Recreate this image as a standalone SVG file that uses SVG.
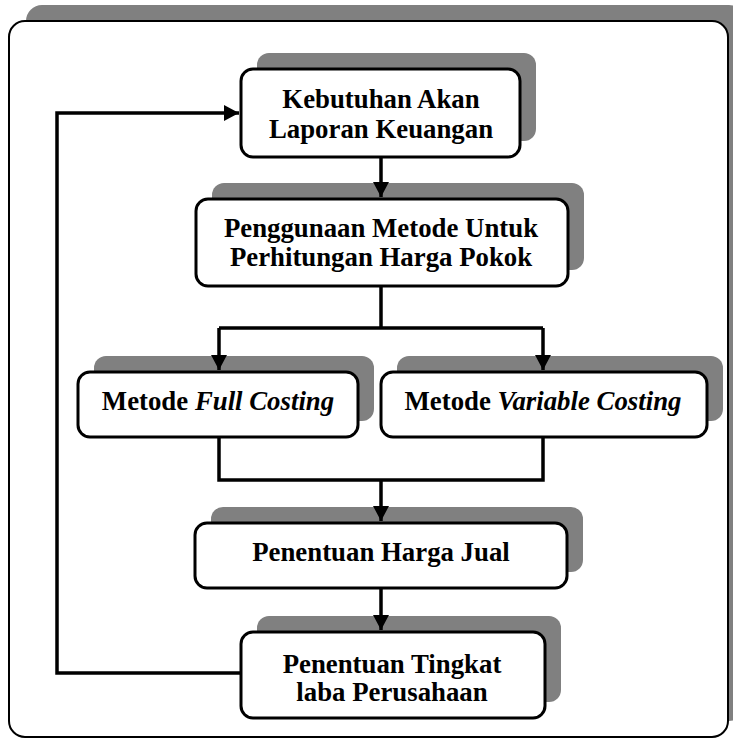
<svg xmlns="http://www.w3.org/2000/svg" width="733" height="738" viewBox="0 0 733 738">
<style>
.sh{fill:#808080;stroke:none}
.box{fill:#fff;stroke:#000;stroke-width:3}
.t{font-family:'Liberation Serif','Times New Roman','DejaVu Serif',serif;font-weight:bold;font-size:26.8px;fill:#000;text-anchor:middle}
.i{font-style:italic}
.c{fill:none;stroke:#000;stroke-width:3.5}
</style>
<defs>
<marker id="ah" markerUnits="userSpaceOnUse" markerWidth="15" markerHeight="16" viewBox="0 0 15 16" refX="15" refY="8" orient="auto">
<path d="M0,0 L15,8 L0,16 Z" fill="#000"/>
</marker>
</defs>
<rect width="733" height="738" fill="#fff"/>
<g id="frame">
<rect class="sh" x="26" y="5" width="719" height="716" rx="16"/>
<rect x="9" y="21" width="719" height="716" rx="16" fill="#fff" stroke="#000" stroke-width="2"/>
</g>
<g id="n1">
<rect class="sh" x="257" y="53" width="279" height="88" rx="12"/>
<rect class="box" x="241" y="69" width="279" height="88" rx="12"/>
<text class="t" x="381" y="108">Kebutuhan Akan</text>
<text class="t" x="381" y="138">Laporan Keuangan</text>
</g>
<g id="n2">
<rect class="sh" x="212" y="183" width="372" height="87" rx="12"/>
<rect class="box" x="196" y="199" width="372" height="87" rx="12"/>
<text class="t" x="381" y="237">Penggunaan Metode Untuk</text>
<text class="t" x="381" y="266">Perhitungan Harga Pokok</text>
</g>
<g id="n3">
<rect class="sh" x="94" y="356" width="280" height="65" rx="12"/>
<rect class="box" x="78" y="372" width="280" height="65" rx="12"/>
<text class="t" x="218" y="410">Metode <tspan class="i">Full Costing</tspan></text>
</g>
<g id="n4">
<rect class="sh" x="397" y="356" width="326" height="65" rx="12"/>
<rect class="box" x="381" y="372" width="326" height="65" rx="12"/>
<text class="t" x="543" y="410">Metode <tspan class="i">Variable Costing</tspan></text>
</g>
<g id="n5">
<rect class="sh" x="211" y="507" width="372" height="65" rx="12"/>
<rect class="box" x="195" y="523" width="372" height="65" rx="12"/>
<text class="t" x="381" y="561">Penentuan Harga Jual</text>
</g>
<g id="n6">
<rect class="sh" x="257" y="616" width="304" height="86" rx="12"/>
<rect class="box" x="241" y="632" width="304" height="86" rx="12"/>
<text class="t" x="392" y="673">Penentuan Tingkat</text>
<text class="t" x="392" y="701">laba Perusahaan</text>
</g>
<g id="connectors">
<path class="c" d="M381,158 V197" marker-end="url(#ah)"/>
<path class="c" d="M381,287 V328"/>
<path class="c" d="M219,328 H543"/>
<path class="c" d="M219,328 V370" marker-end="url(#ah)"/>
<path class="c" d="M543,328 V370" marker-end="url(#ah)"/>
<path class="c" d="M219,438 V480 H543 V438"/>
<path class="c" d="M381,480 V521" marker-end="url(#ah)"/>
<path class="c" d="M381,589 V630" marker-end="url(#ah)"/>
<path class="c" d="M240,673 H57 V113 H239" marker-end="url(#ah)"/>
</g>
</svg>
